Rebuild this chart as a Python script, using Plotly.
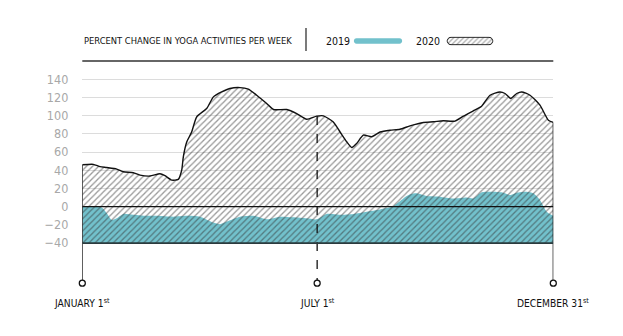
import numpy as np
import plotly.graph_objects as go

W, H = 623, 336

# ---- data (day of year, percent change) ----
days_2020 = [0, 8.5, 13.7, 18.8, 26.6, 31.7, 39.4, 44.6, 52.3, 60, 63.9, 69.1, 74.2, 76.8, 78.1,
             80.7, 84.5, 88.4, 96.1, 101.3, 107.7, 114.1, 121.9, 128.3, 134.8, 142.5, 147.7, 158,
             165.7, 173.4, 181.1, 186.3, 194, 199.2, 204.3, 208.2, 212, 217.2, 223.6, 230.1, 237.8,
             245.5, 253.3, 263.6, 271.3, 279, 288, 294.5, 302.2, 308.6, 315.1, 322.8, 326.7, 331.1,
             335.7, 339.6, 346, 353.7, 360.2, 364]
vals_2020 = [46, 46.5, 44, 43, 41.3, 38.4, 37.3, 34.7, 33.6, 36.2, 34, 29.2, 30, 40, 55,
             71, 82, 98.7, 107.8, 120.6, 126, 129.8, 130.8, 129, 122.4, 113.3, 106.7, 106.7,
             102.3, 96, 99.4, 99.8, 93, 82, 71.3, 65, 69.4, 78.6, 76.8, 82, 84,
             85, 88.8, 92.5, 93.2, 94.3, 94, 99.4, 105.3, 110.4, 122.4, 126, 124.3, 118.8,
             124.3, 126, 122.4, 111.5, 95, 92.5]

days_2019 = [0, 15, 18.8, 22.7, 26.6, 31.7, 39.4, 47.2, 57.5, 70.3, 80.7, 91, 101.3, 106.4, 111.6,
             121.9, 132.2, 142.5, 152.8, 163.1, 173.4, 181.1, 188.8, 199.2, 209.5, 219.8, 230.1,
             240.4, 248.1, 253.3, 258.4, 266.1, 276.4, 286.7, 297, 302.2, 308.6, 317.6, 325.4,
             330.5, 335.7, 343.4, 348.6, 353.7, 358.9, 364]
vals_2019 = [0, -1, -7, -14.6, -12.8, -8, -9, -10, -10, -11, -10, -11, -17.5, -19.4, -16.4,
             -11, -10, -13.9, -11, -11.7, -12.8, -13.9, -8, -9, -8, -5.5, -3,
             0.7, 9, 13.5, 14.6, 11.7, 11, 9, 10, 9, 15.7, 16.4, 15.4,
             12.8, 15.4, 16.4, 14.6, 7.3, -5.5, -10]

y_ticks = [-40, -20, 0, 20, 40, 60, 80, 100, 120, 140]
marker_days = [0, 181.5, 364]
marker_labels = ["JANUARY 1<sup>st</sup>", "JULY 1<sup>st</sup>", "DECEMBER 31<sup>st</sup>"]
marker_vals = [46, 99.6, 92.5]
marker_dash = ["solid", "dash", "solid"]

BASE = -40
TEAL = "#72C1CC"
FONT = "DejaVu Sans Condensed, Liberation Sans Narrow, sans-serif"
INK = "#111111"

fig = go.Figure()

# baseline + 2019 teal area
fig.add_trace(go.Scatter(x=[0, 364], y=[BASE, BASE], mode="lines", line=dict(width=0),
                         showlegend=False, hoverinfo="skip"))
fig.add_trace(go.Scatter(x=days_2019, y=vals_2019, mode="lines", line=dict(width=0, shape="spline", smoothing=0.6),
                         fill="tonexty", fillcolor=TEAL, showlegend=False, name="2019"))
# baseline + 2020 hatched area
fig.add_trace(go.Scatter(x=[0, 364], y=[BASE, BASE], mode="lines", line=dict(width=0),
                         showlegend=False, hoverinfo="skip"))
fig.add_trace(go.Scatter(x=days_2020, y=vals_2020, mode="lines",
                         line=dict(color=INK, width=1.4, shape="spline", smoothing=0.6),
                         fill="tonexty", fillcolor="rgba(0,0,0,0)",
                         fillpattern=dict(shape="/", fgcolor="#333333", bgcolor="rgba(0,0,0,0)",
                                          size=4.3, solidity=0.3),
                         showlegend=False, name="2020"))

# circles at bottom of marker lines
fig.add_trace(go.Scatter(x=marker_days, y=[-84] * 3, mode="markers", cliponaxis=False,
                         marker=dict(symbol="circle-open", size=6, color=INK, line=dict(width=1.3)),
                         showlegend=False, hoverinfo="skip"))

# vertical marker lines
for d, v, ds in zip(marker_days, marker_vals, marker_dash):
    fig.add_shape(type="line", xref="x", yref="y", x0=d, x1=d, y0=v, y1=-81,
                  line=dict(color=INK, width=1.3, dash=ds), layer="above")

# zero line and baseline
fig.add_shape(type="line", xref="x", yref="y", x0=0, x1=364, y0=0, y1=0,
              line=dict(color=INK, width=1.1), layer="above")
fig.add_shape(type="line", xref="x", yref="y", x0=0, x1=364, y0=BASE, y1=BASE,
              line=dict(color="#2b3b3e", width=1.6), layer="above")

# top rule
x0p, x1p = 82.3 / W, 553.3 / W
fig.add_shape(type="line", xref="paper", yref="paper", x0=x0p, x1=x1p, y0=1 - 61 / H, y1=1 - 61 / H,
              line=dict(color="#333333", width=1.5))
# separator
fig.add_shape(type="line", xref="paper", yref="paper", x0=306 / W, x1=306 / W, y0=1 - 28 / H, y1=1 - 51 / H,
              line=dict(color="#333333", width=1.3))

TY = 1 - 40.5 / H
# title and legend texts
fig.add_annotation(text="PERCENT CHANGE IN YOGA ACTIVITIES PER WEEK", xref="paper", yref="paper",
                   x=81.5 / W, y=TY, xanchor="left", yanchor="middle", showarrow=False,
                   font=dict(family=FONT, size=9.3, color=INK))
fig.add_annotation(text="2019", xref="paper", yref="paper", x=324 / W, y=TY,
                   xanchor="left", yanchor="middle", showarrow=False,
                   font=dict(family=FONT, size=10.5, color=INK))
fig.add_annotation(text="2020", xref="paper", yref="paper", x=414 / W, y=TY,
                   xanchor="left", yanchor="middle", showarrow=False,
                   font=dict(family=FONT, size=10.5, color=INK))
# teal legend swatch (rounded)
fig.add_shape(type="path", xref="paper", yref="paper", xsizemode="pixel", ysizemode="pixel",
              xanchor=378 / W, yanchor=1 - 41 / H,
              path="M-21.5,-2.7 L21.5,-2.7 C25,-2.7 25,2.7 21.5,2.7 L-21.5,2.7 C-25,2.7 -25,-2.7 -21.5,-2.7 Z",
              fillcolor=TEAL, line=dict(width=0))

# hatched legend pill on its own little axes
t = np.linspace(-np.pi / 2, np.pi / 2, 12)
r = 0.5
ax = 4 / 49
px = list(1 - ax + ax * np.cos(t)) + list(ax - ax * np.cos(t))
py = list(0.5 + r * np.sin(t)) + list(0.5 - r * np.sin(t))
px.append(px[0]); py.append(py[0])
fig.add_trace(go.Scatter(x=px, y=py, xaxis="x2", yaxis="y2", mode="lines", fill="toself",
                         line=dict(color=INK, width=1), fillcolor="rgba(0,0,0,0)",
                         fillpattern=dict(shape="/", fgcolor="#333333", bgcolor="rgba(0,0,0,0)",
                                          size=3.5, solidity=0.3),
                         showlegend=False, hoverinfo="skip"))

# bottom date labels
for d, lab in zip(marker_days, marker_labels):
    fig.add_annotation(text=lab, xref="x", yref="paper", x=d, y=1 - 302 / H,
                       xanchor="center", yanchor="middle", showarrow=False,
                       font=dict(family=FONT, size=10.2, color=INK))

fig.update_layout(
    width=W, height=H, margin=dict(l=0, r=0, t=0, b=0),
    paper_bgcolor="white", plot_bgcolor="white",
    xaxis=dict(domain=[x0p, x1p], range=[0, 364], showgrid=False, zeroline=False,
               showticklabels=False, showline=False, fixedrange=True),
    yaxis=dict(domain=[(H - 288.6) / H, (H - 61) / H], range=[-90, 160], tickvals=y_ticks,
               showgrid=True, gridcolor="#dcdcdc", gridwidth=1, zeroline=False, showline=False,
               ticklabelstandoff=13, tickfont=dict(family=FONT, size=12.5, color="#a8a8a8")),
    xaxis2=dict(domain=[445 / W, 495 / W], range=[-0.05, 1.05], visible=False, anchor="y2"),
    yaxis2=dict(domain=[(H - 45.5) / H, (H - 36.5) / H], range=[-0.1, 1.1], visible=False, anchor="x2"),
)

fig.write_html("out.html")
